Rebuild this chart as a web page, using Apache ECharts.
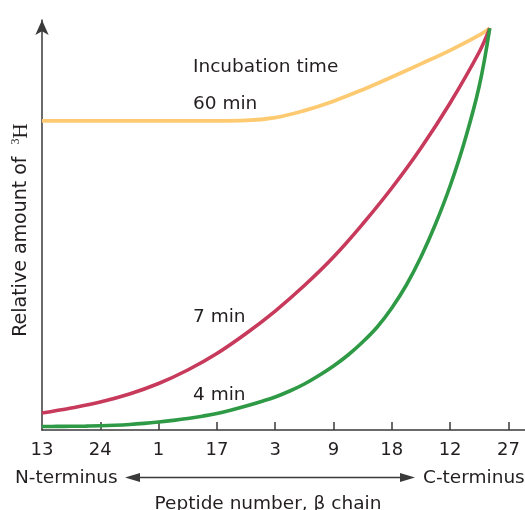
<!DOCTYPE html>
<html>
<head>
<meta charset="utf-8">
<script src="https://cdn.jsdelivr.net/npm/echarts@6/dist/echarts.min.js"></script>
<style>
  html, body { margin: 0; padding: 0; background: #ffffff; }
  #chart { width: 525px; height: 510px; }
</style>
</head>
<body>
<div id="chart"></div>
<script>
// Tick labels (peptide numbers along the beta chain, N- to C-terminus)
const xLabels = ['13', '24', '1', '17', '3', '9', '18', '12', '27'];

// Sample positions along the chain (in tick units)
const xs = [0, 0.5, 1, 1.5, 2, 2.5, 3, 3.5, 4, 4.5, 5, 5.5, 6, 6.5, 7, 7.5, 7.68];

// 60 min incubation
const y60 = [75.4, 75.4, 75.4, 75.4, 75.4, 75.4, 75.4, 75.5, 76.2, 77.9, 80.2, 83.0, 86.1, 89.3, 92.6, 96.3, 98.0];

// 7 min incubation
const y7 = [4.15, 5.37, 6.83, 8.78, 11.34, 14.63, 18.66, 23.54, 29.02, 35.24, 42.2, 50.24, 59.02, 68.78, 79.76, 92.2, 98.0];

// 4 min incubation (quarter-tick sampling)
const x4 = [0, 0.25, 0.5, 0.75, 1, 1.25, 1.5, 1.75, 2, 2.25, 2.5, 2.75, 3, 3.25, 3.5, 3.75,
            4, 4.25, 4.5, 4.75, 5, 5.25, 5.5, 5.75, 6, 6.25, 6.5, 6.75, 7, 7.25, 7.5, 7.68];
const y4 = [0.85, 0.88, 0.9, 0.95, 1.02, 1.15, 1.34, 1.61, 1.95, 2.34, 2.8, 3.37, 4.02, 4.88, 5.85, 6.9,
            8.05, 9.51, 11.22, 13.29, 15.61, 18.29, 21.46, 25.12, 29.76, 35.37, 42.2, 50.24, 59.51, 70.49, 83.9, 98.0];

const zip = (xv, yv) => xv.map((x, i) => [x, yv[i]]);

const FONT = 'DejaVu Sans';
const AXIS_COLOR = '#3a3a3a';
const TEXT_COLOR = '#231f20';
const TFONT = '18.5px "DejaVu Sans"';

const chart = echarts.init(document.getElementById('chart'), null, { renderer: 'canvas' });

const tickIdx = xLabels.map((_, i) => i);

const option = {
  backgroundColor: '#ffffff',
  animation: false,
  grid: { left: 42, right: 0, top: 20, bottom: 80 },
  xAxis: {
    type: 'value',
    min: 0,
    max: 8 * 483 / 466.4,
    splitLine: { show: false },
    axisLine: { show: true, onZero: false, lineStyle: { color: AXIS_COLOR, width: 1.5 } },
    axisTick: {
      show: true, inside: true, length: 8,
      customValues: tickIdx.slice(1),
      lineStyle: { color: AXIS_COLOR, width: 1.5 }
    },
    axisLabel: {
      customValues: tickIdx,
      formatter: v => xLabels[Math.round(v)],
      fontSize: 18, fontFamily: FONT, color: TEXT_COLOR, margin: 11
    }
  },
  yAxis: {
    type: 'value',
    min: 0,
    max: 100,
    splitLine: { show: false },
    axisTick: { show: false },
    axisLabel: { show: false },
    axisLine: {
      show: true,
      symbol: ['none', 'arrow'],
      symbolSize: [10, 15],
      lineStyle: { color: AXIS_COLOR, width: 1.5 }
    },
    name: 'Relative amount of  {sup|3}{h|H}',
    nameLocation: 'middle',
    nameRotate: 90,
    nameGap: 10,
    nameTextStyle: {
      fontSize: 19, fontFamily: FONT, color: TEXT_COLOR,
      padding: [0, 10, 0, 0],
      rich: {
        sup: { fontSize: 12, fontFamily: 'Liberation Serif', color: TEXT_COLOR, verticalAlign: 'top', lineHeight: 22 },
        h: { fontSize: 21, fontFamily: 'Liberation Serif', color: TEXT_COLOR, lineHeight: 22 }
      }
    }
  },
  series: [
    {
      name: '60 min', type: 'line', data: zip(xs, y60),
      smooth: 0.4, showSymbol: false,
      lineStyle: { color: '#fdca72', width: 3.8 }, z: 3
    },
    {
      name: '7 min', type: 'line', data: zip(xs, y7),
      smooth: 0.4, showSymbol: false,
      lineStyle: { color: '#c83a5c', width: 3.6 }, z: 4
    },
    {
      name: '4 min', type: 'line', data: zip(x4, y4),
      smooth: 0.4, showSymbol: false,
      lineStyle: { color: '#2f9a45', width: 3.6 }, z: 5
    }
  ],
  graphic: [
    { type: 'text', left: 193, top: 58, style: { text: 'Incubation time', font: TFONT, fill: TEXT_COLOR } },
    { type: 'text', left: 193, top: 95, style: { text: '60 min', font: TFONT, fill: TEXT_COLOR } },
    { type: 'text', left: 193, top: 308, style: { text: '7 min', font: TFONT, fill: TEXT_COLOR } },
    { type: 'text', left: 193, top: 386, style: { text: '4 min', font: TFONT, fill: TEXT_COLOR } },
    { type: 'text', left: 15, top: 469, style: { text: 'N-terminus', font: TFONT, fill: TEXT_COLOR } },
    { type: 'text', left: 423, top: 469, style: { text: 'C-terminus', font: TFONT, fill: TEXT_COLOR } },
    { type: 'text', x: 268, y: 495, style: { text: 'Peptide number, \u03b2 chain', font: TFONT, fill: TEXT_COLOR, align: 'center', verticalAlign: 'top' } },
    { type: 'line', shape: { x1: 137, y1: 477.5, x2: 403, y2: 477.5 }, style: { stroke: AXIS_COLOR, lineWidth: 1.5 } },
    { type: 'polygon', shape: { points: [[125, 477.5], [140, 473], [140, 482]] }, style: { fill: AXIS_COLOR } },
    { type: 'polygon', shape: { points: [[415, 477.5], [400, 473], [400, 482]] }, style: { fill: AXIS_COLOR } }
  ]
};

chart.setOption(option);
</script>
</body>
</html>
